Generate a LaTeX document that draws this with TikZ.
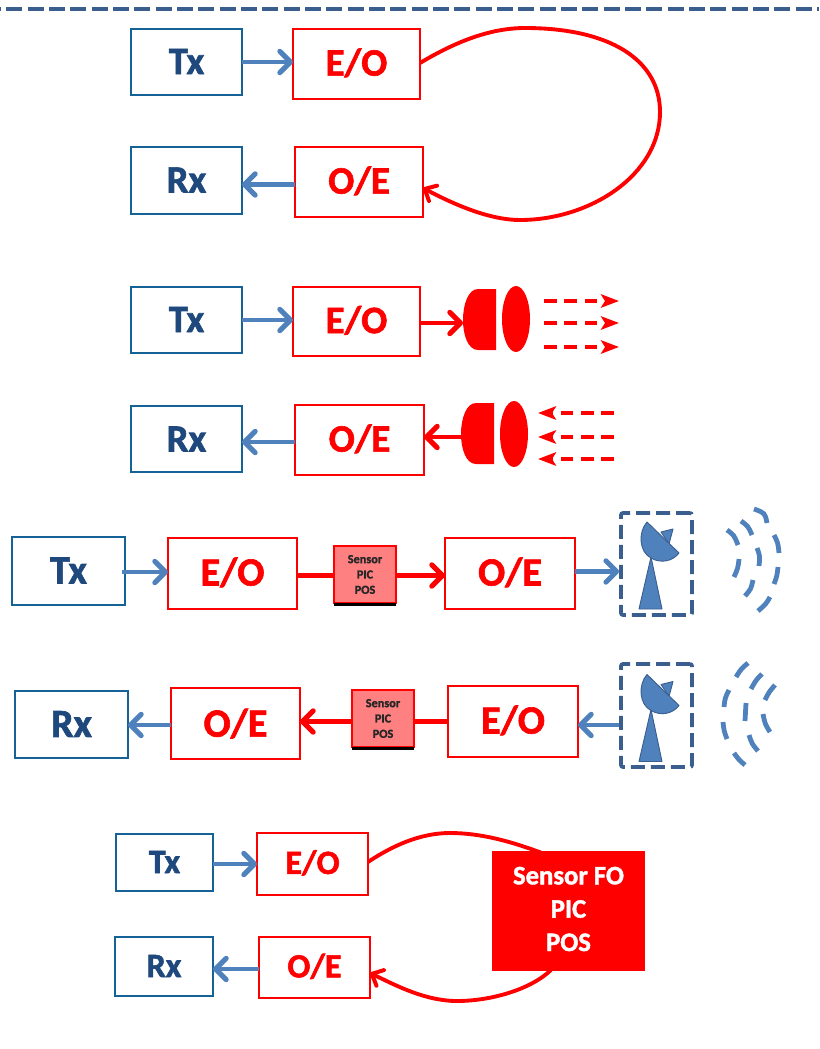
\documentclass[tikz,border=0pt]{standalone}
\usepackage{fontspec}
\setmainfont[BoldFeatures={FakeBold=1.6}]{Carlito}
\usetikzlibrary{arrows.meta,calc}
\definecolor{txblue}{HTML}{1F497D}
\definecolor{boxblue}{HTML}{156396}
\definecolor{arrowblue}{HTML}{4F81BD}
\definecolor{dashblue}{HTML}{3A5F8F}
\definecolor{pinkfill}{HTML}{FF8080}
\tikzset{
  x=0.75pt,y=-0.75pt,
  bluebox/.style={draw=boxblue,line width=2.2pt,text=txblue,inner sep=0pt,outer sep=0pt},
  redbox/.style={draw=red,line width=2.2pt,text=red,inner sep=0pt,outer sep=0pt},
  sensorbox/.style={draw=red,line width=2pt,fill=pinkfill,text=black!85,inner sep=0pt,outer sep=0pt,align=center,
    font=\fontsize{9.2}{11.5}\selectfont\bfseries},
  fobox/.style={fill=red,text=white,inner sep=0pt,outer sep=0pt,
    font=\fontsize{20}{25}\selectfont\bfseries},
  big/.style={font=\fontsize{29}{32}\selectfont\bfseries},
  huge/.style={font=\fontsize{30}{32}\selectfont\bfseries},
  small/.style={font=\fontsize{25.5}{28}\selectfont\bfseries},
  bluearrow/.style={draw=arrowblue,line width=3.4pt,-{Straight Barb[length=8pt,width=16pt,line width=3.8pt,round]}},
  redarrow/.style={draw=red,line width=3.4pt,-{Straight Barb[length=8pt,width=16pt,line width=3.8pt,round]}},
  redline/.style={draw=red,line width=3.4pt},
  loopline/.style={draw=red,line width=2.9pt,-{Straight Barb[length=7pt,width=13pt,line width=3pt,round]}},
  beam/.style={draw=red,line width=2.5pt,dash pattern=on 9.5pt off 5.7pt,-{Stealth[length=13.5pt,width=10pt,inset=3pt]}},
  lensred/.style={fill=red,draw=none},
  wave/.style={draw=arrowblue,line width=3.6pt},
  dishbody/.style={fill=arrowblue,draw=dashblue,line width=0.7pt,line join=round},
  dashbox/.style={draw=dashblue,line width=2.8pt,dash pattern=on 10.5pt off 4.5pt,fill=none,rounded corners=1.5pt},
}
\newcommand{\bx}[7]{\node[#6,minimum width={(#4-#2)*0.75pt},minimum height={(#5-#3)*0.75pt}] (#1) at ({(#2+#4)/2},{(#3+#5)/2}) {#7};}
\newcommand{\wv}[3]{\draw[wave] (#1) .. controls (#2) .. (#3);}
\newcommand{\up}[1]{\raisebox{3pt}{#1}}
\newcommand{\upb}[1]{\raisebox{0.8pt}{#1}}
\newcommand{\dishat}[1]{%
  \begin{scope}[shift={(0,#1)}]
    \fill[dishbody] (651,557) -- (639,609) -- (662,609) -- cycle;
    \fill[dishbody] (661,532) -- (673,529) -- (669,544) -- cycle;
    \fill[dishbody] (647,522) .. controls (638,532) and (639,552) .. (651,558) .. controls (661,564) and (673,561) .. (679,553) -- cycle;
  \end{scope}}
\begin{document}
\begin{tikzpicture}
\useasboundingbox (0,0) rectangle (819,1049);
\draw[draw=dashblue,line width=3.4pt,dash pattern=on 12pt off 4pt,dash phase=11.2pt] (0,9) -- (819,9);

% Row 1
\bx{txa}{131}{29}{242}{95}{bluebox,big}{\upb{Tx}}
\bx{eoa}{293}{29}{420}{99}{redbox,big}{\up{E/O}}
\bx{rxa}{131}{147}{242}{214}{bluebox,big}{\upb{Rx}}
\bx{oea}{295}{147}{423}{217}{redbox,big}{\up{O/E}}
\draw[bluearrow] (txa.east |- 0,62) -- (eoa.west |- 0,62);
\draw[bluearrow] (oea.west |- 0,184.5) -- (rxa.east |- 0,184.5);
\draw[loopline] (eoa.east |- 0,63) .. controls (455,42) and (490,28) .. (525,28) .. controls (610,28) and (660,60) .. (660,112) .. controls (660,175) and (590,220) .. (520,220) .. controls (490,220) and (455,205) .. (oea.east |- 0,188);

% Row 2
\bx{txb}{131}{287}{242}{353}{bluebox,big}{\upb{Tx}}
\bx{eob}{293}{287}{420}{356}{redbox,big}{\up{E/O}}
\bx{rxb}{131}{406}{242}{472}{bluebox,big}{Rx}
\bx{oeb}{295}{405}{424}{475}{redbox,big}{\up{O/E}}
\coordinate (lensa) at (463,323);
\coordinate (lensb) at (461,437);
\path[lensred] (496,289) -- (478,289) .. controls (468,289) and (463,305) .. (463,320) .. controls (463,335) and (468,350) .. (478,350) -- (496,350) -- cycle;
\path[lensred] (516,319) ellipse [x radius=14,y radius=33];
\path[lensred] (494,403) -- (476,403) .. controls (466,403) and (461,419) .. (461,434) .. controls (461,449) and (466,464) .. (476,464) -- (494,464) -- cycle;
\path[lensred] (514,434) ellipse [x radius=14,y radius=33];
\draw[bluearrow] (txb.east |- 0,320) -- (eob.west |- 0,320);
\draw[redarrow] (eob.east |- lensa) -- (lensa);
\draw[bluearrow] (oeb.west |- 0,442) -- (rxb.east |- 0,442);
\draw[redarrow] (lensb) -- (oeb.east |- lensb);
\coordinate (ra1) at (544,301); \coordinate (rb1) at (619,301);
\coordinate (ra2) at (544,323); \coordinate (rb2) at (619,323);
\coordinate (ra3) at (544,347); \coordinate (rb3) at (619,347);
\coordinate (sa1) at (614,413); \coordinate (sb1) at (538,413);
\coordinate (sa2) at (614,437); \coordinate (sb2) at (538,437);
\coordinate (sa3) at (614,459); \coordinate (sb3) at (538,459);
\foreach \i in {1,2,3}{\draw[beam] (ra\i) -- (rb\i); \draw[beam] (sa\i) -- (sb\i);}

% Row 3
\bx{txc}{12}{537}{125}{605}{bluebox,huge}{\upb{Tx}}
\bx{eoc}{168}{538}{297}{609}{redbox,huge}{\up{E/O}}
\bx{sc}{334}{546}{396}{603}{sensorbox}{Sensor\\PIC\\POS}
\draw[black,line width=1.8pt] ([yshift=-1pt]sc.south west) -- ([yshift=-1pt]sc.south east);
\bx{oec}{445}{538}{575}{609}{redbox,huge}{\up{O/E}}
\bx{antc}{621}{513}{692}{615}{dashbox}{}
\dishat{0}
\wv{754,509}{765,513}{767,523}
\wv{774,535}{778,543}{779,553}
\wv{778,567}{777,576}{774,584}
\wv{770,597}{766,604}{758,611}
\wv{741,521}{748,526}{752,535}
\wv{757,548}{760,556}{759,566}
\wv{753,580}{751,589}{745,596}
\wv{727,530}{734,535}{738,545}
\wv{739,559}{738,568}{734,577}
\draw[bluearrow] (122,572) -- (eoc.west |- 0,572);
\draw[redline] (eoc.east |- 0,575.5) -- (sc.west |- 0,575.5);
\draw[redarrow] (sc.east |- 0,575.5) -- (oec.west |- 0,575.5);
\draw[bluearrow] (oec.east |- 0,571.5) -- (antc.west |- 0,571.5);

% Row 4
\bx{rxd}{15}{691}{128}{758}{bluebox,huge}{\upb{Rx}}
\bx{oed}{171}{688}{300}{759}{redbox,huge}{\upb{O/E}}
\bx{sd}{352}{690}{414}{747}{sensorbox}{Sensor\\PIC\\POS}
\draw[black,line width=1.8pt] ([yshift=-1pt]sd.south west) -- ([yshift=-1pt]sd.south east);
\bx{eod}{448}{686}{578}{757}{redbox,huge}{\up{E/O}}
\bx{antd}{621}{664}{692}{767}{dashbox}{}
\dishat{152.5}
\wv{748,663}{741,669}{736,677}
\wv{729,690}{725,698}{724,707}
\wv{723,722}{724,731}{727,739}
\wv{734,753}{739,760}{745,765}
\wv{762,674}{756,680}{751,689}
\wv{746,703}{745,712}{745,721}
\wv{749,735}{752,744}{758,751}
\wv{775,685}{769,692}{765,700}
\wv{763,714}{765,724}{770,732}
\draw[bluearrow] (antd.west |- 0,725) -- (eod.east |- 0,725);
\draw[redline] (eod.west |- 0,721.5) -- (sd.east |- 0,721.5);
\draw[redarrow] (sd.west |- 0,721.5) -- (oed.east |- 0,721.5);
\draw[bluearrow] (oed.west |- 0,725) -- (rxd.east |- 0,725);

% Row 5
\bx{txe}{116}{834}{213}{891}{bluebox,small}{\upb{Tx}}
\bx{eoe}{257}{833}{368}{895}{redbox,small}{\up{E/O}}
\bx{rxe}{115}{937}{213}{996}{bluebox,small}{\upb{Rx}}
\bx{oee}{259}{937}{370}{998}{redbox,small}{\up{O/E}}
\coordinate (foin) at (542,853);
\coordinate (foout) at (551,970);
\draw[draw=red,line width=2.9pt] (eoe.east |- 0,862) .. controls (392,846) and (420,833) .. (450,833) .. controls (480,833) and (510,841) .. (foin);
\draw[loopline] (foout) .. controls (530,990) and (490,1001) .. (457,1001) .. controls (425,1001) and (395,985) .. (oee.east |- 0,973);
\bx{fo}{492}{851}{645}{971}{fobox}{\raisebox{1.5pt}{\begin{tabular}{@{}c@{}}Sensor FO\\PIC\\POS\end{tabular}}}
\draw[bluearrow] (txe.east |- 0,864) -- (eoe.west |- 0,864);
\draw[bluearrow] (oee.west |- 0,969) -- (rxe.east |- 0,969);
\end{tikzpicture}
\end{document}
